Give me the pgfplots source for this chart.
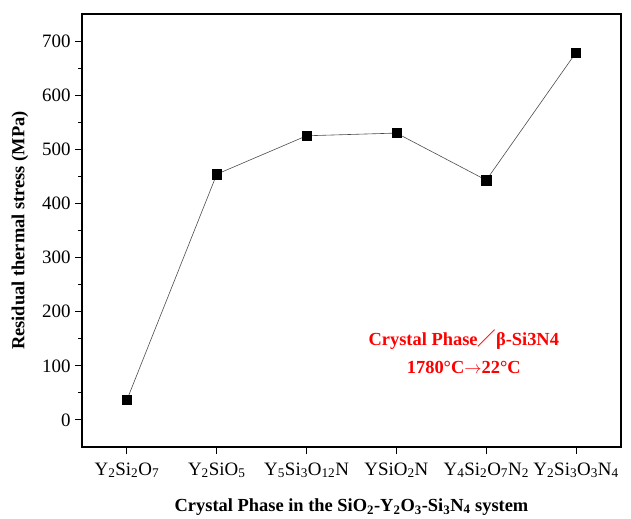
\documentclass[border=0pt]{standalone}
\usepackage{pgfplots}
\pgfplotsset{compat=1.18}
\usepackage{fontspec}
\setmainfont{Liberation Serif}
\newfontfamily\cjk{Noto Sans CJK SC}
\begin{document}
\begin{tikzpicture}
\begin{axis}[
  scale only axis,
  width=539bp, height=433bp,
  xmin=-0.5, xmax=5.5,
  ymin=-50, ymax=750,
  axis line style={line width=1.3bp},
  every tick/.style={black, line width=1.1bp},
  tick align=outside,
  xtick={0,1,2,3,4,5},
  xticklabels={Y\textsubscript{2}Si\textsubscript{2}O\textsubscript{7},
               Y\textsubscript{2}SiO\textsubscript{5},
               Y\textsubscript{5}Si\textsubscript{3}O\textsubscript{12}N,
               YSiO\textsubscript{2}N,
               Y\textsubscript{4}Si\textsubscript{2}O\textsubscript{7}N\textsubscript{2},
               Y\textsubscript{2}Si\textsubscript{3}O\textsubscript{3}N\textsubscript{4}},
  ytick={0,100,...,700},
  minor y tick num=1,
  major tick length=7bp,
  minor tick length=4bp,
  xtick pos=bottom, ytick pos=left,
  /pgf/number format/assume math mode=true,
  tick label style={font=\fontsize{19}{21}\selectfont},
  yticklabel style={xshift=-1bp},
  xticklabel style={yshift=-5bp},
  label style={font=\bfseries\fontsize{18.5}{21}\selectfont},
  xlabel={Crystal Phase in the SiO\textsubscript{2}-Y\textsubscript{2}O\textsubscript{3}-Si\textsubscript{3}N\textsubscript{4} system},
  ylabel={Residual thermal stress (MPa)},
  ylabel style={at={(axis description cs:-0.115,0.5)}, anchor=center},
  xlabel style={at={(axis description cs:0.5,0)}, yshift=-60bp, anchor=center},
  clip=false,
]
\addplot[color=gray!60!black, line width=0.6bp, mark=square*, mark size=4.6bp,
  mark options={fill=black, draw=black, line width=0.4bp}]
  coordinates {(0,37) (1,454) (2,525) (3,530) (4,443) (5,679)};
\node[text=red, font=\bfseries\fontsize{18.5}{29}\selectfont, align=center]
  at (axis cs:3.75,126) {Crystal Phase{\cjk ／}β-Si3N4\\1780°C\ensuremath{\rightarrow}22°C};
\end{axis}
\pgfresetboundingbox
\path ([shift={(-82bp,-71bp)}]current axis.south west) rectangle ([shift={(10bp,14bp)}]current axis.north east);
\end{tikzpicture}
\end{document}
